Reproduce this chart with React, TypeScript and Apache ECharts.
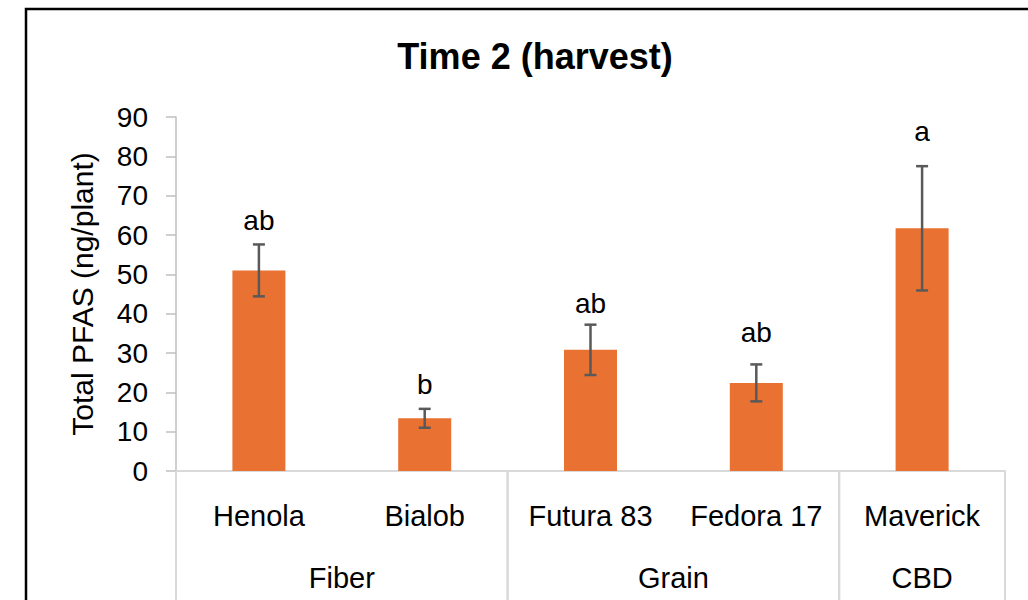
import React, { useEffect, useRef } from "react";
import * as echarts from "echarts";

const categories = ["Henola", "Bialob", "Futura 83", "Fedora 17", "Maverick"];
const groups = ["Fiber", "Fiber", "Grain", "Grain", "CBD"];
const means = [51.0, 13.4, 30.8, 22.4, 61.7];
const errors = [6.6, 2.4, 6.4, 4.7, 15.8];
const letters = ["ab", "b", "ab", "ab", "a"];
const letterBaseline = [61.0, 19.3, 39.7, 32.5, 83.4];
const yTicks = { min: 0, max: 90, interval: 10 };

const FONT = "'Liberation Sans', Arial, sans-serif";

function groupSpans() {
  const spans: { name: string; start: number; end: number }[] = [];
  groups.forEach((g, i) => {
    const last = spans[spans.length - 1];
    if (last && last.name === g) last.end = i;
    else spans.push({ name: g, start: i, end: i });
  });
  return spans;
}

export default function App() {
  const ref = useRef<HTMLDivElement>(null);
  useEffect(() => {
    document.body.style.margin = "0";
    const chart = echarts.init(ref.current!, null, { renderer: "svg" });
    const spans = groupSpans();
    chart.setOption({
      animation: false,
      backgroundColor: "#ffffff",
      title: {
        text: "Time 2 (harvest)",
        left: 530,
        top: 33,
        textAlign: "center",
        textStyle: { fontFamily: FONT, fontSize: 36, fontWeight: "bold", color: "#000" },
      },
      graphic: [
        {
          type: "rect",
          shape: { x: 26, y: 9, width: 1200, height: 800 },
          style: { fill: "none", stroke: "#000", lineWidth: 2.5 },
          silent: true,
        },
      ],
      grid: { left: 176, right: 23, top: 117, bottom: 129, containLabel: false },
      xAxis: {
        type: "category",
        data: categories,
        axisLine: { show: true, lineStyle: { color: "#d9d9d9", width: 2 } },
        axisTick: { show: false },
        axisLabel: {
          margin: 30,
          fontFamily: FONT,
          fontSize: 29,
          color: "#000",
          interval: 0,
        },
      },
      yAxis: {
        type: "value",
        min: yTicks.min,
        max: yTicks.max,
        interval: yTicks.interval,
        name: "Total PFAS (ng/plant)",
        nameLocation: "middle",
        nameRotate: 90,
        nameGap: 79,
        nameTextStyle: { fontFamily: FONT, fontSize: 30, color: "#000" },
        axisLine: { show: true, lineStyle: { color: "#bfbfbf", width: 1.5 } },
        axisTick: { show: true, length: 10, lineStyle: { color: "#bfbfbf", width: 1.5 } },
        splitLine: { show: false },
        axisLabel: { margin: 28, fontFamily: FONT, fontSize: 28, color: "#000" },
      },
      series: [
        {
          type: "bar",
          data: means,
          barWidth: 53,
          itemStyle: { color: "#E97132" },
        },
        {
          type: "custom",
          data: means.map((m, i) => [i, m - errors[i], m + errors[i], letterBaseline[i]]),
          encode: { x: 0, y: [1, 2] },
          z: 5,
          renderItem: (params: any, api: any) => {
            const idx = api.value(0);
            const lo = api.coord([idx, api.value(1)]);
            const hi = api.coord([idx, api.value(2)]);
            const lb = api.coord([idx, api.value(3)]);
            const cap = 6;
            const st = { stroke: "#595959", lineWidth: 2.5 };
            return {
              type: "group",
              children: [
                { type: "line", shape: { x1: lo[0], y1: lo[1], x2: hi[0], y2: hi[1] }, style: st },
                { type: "line", shape: { x1: lo[0] - cap, y1: lo[1], x2: lo[0] + cap, y2: lo[1] }, style: st },
                { type: "line", shape: { x1: hi[0] - cap, y1: hi[1], x2: hi[0] + cap, y2: hi[1] }, style: st },
                {
                  type: "text",
                  style: {
                    text: letters[params.dataIndex],
                    x: lb[0],
                    y: lb[1] + 3,
                    align: "center",
                    verticalAlign: "bottom",
                    fontFamily: FONT,
                    fontSize: 28,
                    fill: "#000",
                  },
                },
              ],
            };
          },
        },
        {
          type: "custom",
          data: spans.map((s) => [s.start, s.end]),
          encode: { x: [0, 1] },
          clip: false,
          z: 4,
          renderItem: (params: any, api: any) => {
            const s = spans[params.dataIndex];
            const bw = api.size([1, 0])[0];
            const p0 = api.coord([s.start, 0]);
            const p1 = api.coord([s.end, 0]);
            const left = p0[0] - bw / 2;
            const right = p1[0] + bw / 2;
            const y0 = p0[1];
            const st = { stroke: "#d9d9d9", lineWidth: 2 };
            return {
              type: "group",
              children: [
                { type: "line", shape: { x1: left, y1: y0, x2: left, y2: y0 + 140 }, style: st },
                { type: "line", shape: { x1: right, y1: y0, x2: right, y2: y0 + 140 }, style: st },
                {
                  type: "text",
                  style: {
                    text: s.name,
                    x: (left + right) / 2,
                    y: y0 + 107,
                    align: "center",
                    verticalAlign: "middle",
                    fontFamily: FONT,
                    fontSize: 29,
                    fill: "#000",
                  },
                },
              ],
            };
          },
        },
      ],
    });
    return () => chart.dispose();
  }, []);
  return <div ref={ref} style={{ width: 1028, height: 600 }} />;
}
